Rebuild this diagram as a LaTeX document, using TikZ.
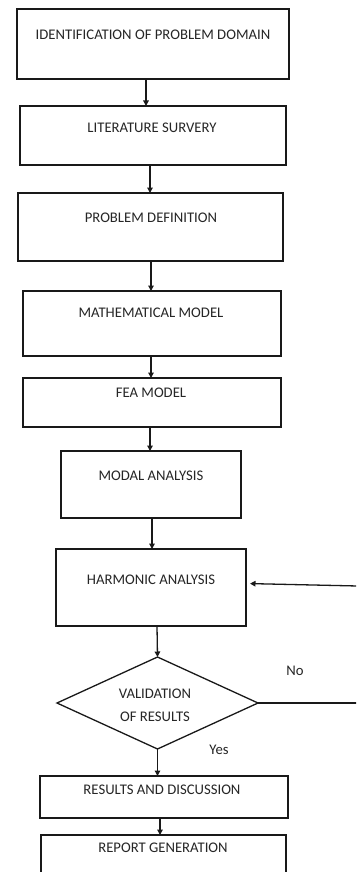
\documentclass[tikz,border=0pt]{standalone}
\usepackage{fontspec}
\setmainfont{Carlito}
\usetikzlibrary{shapes.geometric,arrows.meta}
\begin{document}
\begin{tikzpicture}[x=1pt,y=-1pt,
  every node/.style={font=\fontsize{14.7}{16}\selectfont, text=black!85},
  box/.style={draw=black!90, line width=1.3pt, inner sep=0pt, outer sep=0pt},
  lbl/.style={anchor=center},
  arr/.style={draw=black!90, line width=1.3pt, -{Triangle[length=5.5pt,width=5.5pt]}},
  ln/.style={draw=black!90, line width=1.3pt}]
\clip (0,0) rectangle (356,872);
\fill[white] (0,0) rectangle (356,872);
\node[box, minimum width=272pt, minimum height=70pt] (b1) at (153,44) {};
\node[lbl] (t1) at (153,35) {IDENTIFICATION OF PROBLEM DOMAIN};
\node[box, minimum width=266pt, minimum height=59pt] (b2) at (153,135.5) {};
\node[lbl] (t2) at (152,128) {LITERATURE SURVERY};
\node[box, minimum width=265pt, minimum height=68pt] (b3) at (150.5,227) {};
\node[lbl] (t3) at (151,218) {PROBLEM DEFINITION};
\node[box, minimum width=258pt, minimum height=65pt] (b4) at (152,323.5) {};
\node[lbl] (t4) at (151,313) {MATHEMATICAL MODEL};
\node[box, minimum width=258pt, minimum height=49pt] (b5) at (152,402.5) {};
\node[lbl] (t5) at (151,393) {FEA MODEL};
\node[box, minimum width=180pt, minimum height=67pt] (b6) at (151,484.5) {};
\node[lbl] (t6) at (151,476) {MODAL ANALYSIS};
\node[box, minimum width=190pt, minimum height=77pt] (b7) at (151,587.5) {};
\node[lbl] (t7) at (151,580) {HARMONIC ANALYSIS};
\node[box, shape=diamond, minimum width=201pt, minimum height=92pt] (d) at (157.5,703) {};
\node[lbl] (t8a) at (155,694) {VALIDATION};
\node[lbl] (t8b) at (155,717) {OF RESULTS};
\node[box, minimum width=248pt, minimum height=42pt] (b8) at (164,797) {};
\node[lbl] (t9) at (162,790) {RESULTS AND DISCUSSION};
\node[box, minimum width=245pt, minimum height=50pt] (b9) at (163.5,860) {};
\node[lbl] (t10) at (163,848) {REPORT GENERATION};
\node[lbl] (no) at (295,671) {No};
\node[lbl] (yes) at (219,750) {Yes};
\coordinate (fbin) at (358,586);
\coordinate (fbout) at (358,703);
\draw[arr] ([xshift=-7pt]b1.south) -- ([xshift=-7pt]b1.south |- b2.north);
\draw[arr] ([xshift=-3pt]b2.south) -- ([xshift=-3pt]b2.south |- b3.north);
\draw[arr] ([xshift=0.5pt]b3.south) -- ([xshift=0.5pt]b3.south |- b4.north);
\draw[arr] ([xshift=-1pt]b4.south) -- ([xshift=-1pt]b4.south |- b5.north);
\draw[arr] ([xshift=-2pt]b5.south) -- ([xshift=-2pt]b5.south |- b6.north);
\draw[arr] ([xshift=1pt]b6.south) -- ([xshift=1pt]b6.south |- b7.north);
\draw[arr] ([xshift=6pt]b7.south) -- (d.north);
\draw[arr] (d.south) -- (d.south |- b8.north);
\draw[arr] ([xshift=-4pt]b8.south) -- ([xshift=-4pt]b8.south |- b9.north);
\draw[arr, shorten >=4pt] (fbin) -- ([yshift=4pt]b7.east);
\draw[ln] (d.east) -- (fbout);
\end{tikzpicture}
\end{document}
